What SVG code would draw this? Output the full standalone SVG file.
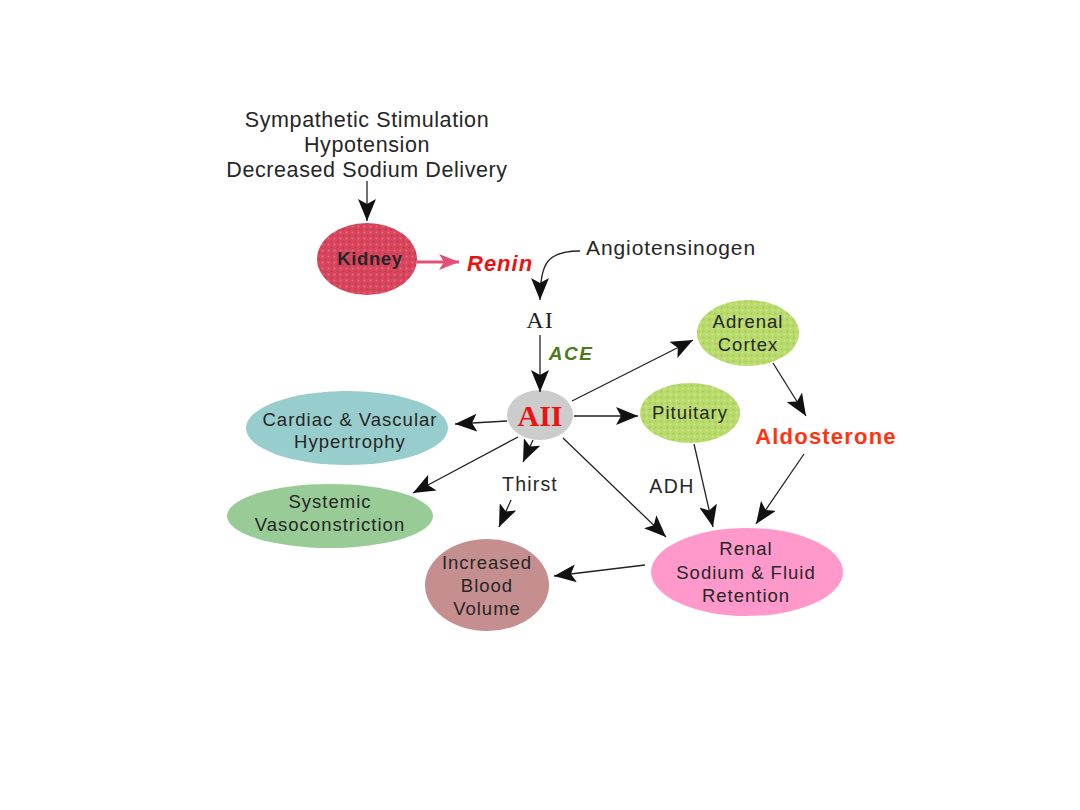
<svg xmlns="http://www.w3.org/2000/svg" width="1080" height="810" viewBox="0 0 1080 810">
<style>
.t{font-family:"Liberation Sans",Arial,sans-serif;fill:#262626;text-anchor:middle}
.n{font-size:18.5px;letter-spacing:1px}
.top{font-size:21.5px;letter-spacing:0.6px}
.c{stroke:#222;stroke-width:1.3;fill:none}
</style>
<defs>
<marker id="ah" markerUnits="userSpaceOnUse" markerWidth="24" markerHeight="18" refX="22" refY="9" orient="auto">
<path d="M0,0 L22,9 L0,18 L5,9 Z" fill="#111"/>
</marker>
<marker id="ahp" markerUnits="userSpaceOnUse" markerWidth="22" markerHeight="16" refX="20" refY="8" orient="auto">
<path d="M0,0 L20,8 L0,16 L5,8 Z" fill="#e0507a"/>
</marker>
<pattern id="pk" width="6" height="6" patternUnits="userSpaceOnUse">
<rect width="6" height="6" fill="#d8465e"/>
<circle cx="1.5" cy="1.5" r="1" fill="#c23650"/>
<circle cx="4.5" cy="4.5" r="1" fill="#e86a7c"/>
</pattern>
<pattern id="pg" width="6" height="6" patternUnits="userSpaceOnUse">
<rect width="6" height="6" fill="#b9db6c"/>
<circle cx="1.5" cy="1.5" r="1" fill="#a3c85a"/>
<circle cx="4.5" cy="4.5" r="1" fill="#cfe98a"/>
</pattern>
</defs>
<rect width="1080" height="810" fill="#fff"/>

<g id="causes">
<text class="t top" x="367" y="127">Sympathetic Stimulation</text>
<text class="t top" x="367" y="152">Hypotension</text>
<text class="t top" x="367" y="177">Decreased Sodium Delivery</text>
</g>
<g id="kidney">
<ellipse cx="367" cy="259" rx="50" ry="36" fill="url(#pk)"/>
<text class="t" x="370" y="265" font-size="18.5" font-weight="bold" letter-spacing="0.6">Kidney</text>
</g>
<g id="renin"><text x="467" y="271" font-family="Liberation Sans,Arial,sans-serif" font-size="22" letter-spacing="1" font-weight="bold" font-style="italic" fill="#ee1111">Renin</text></g>
<g id="angiotensinogen"><text class="t" x="671" y="255" font-size="21" letter-spacing="0.9">Angiotensinogen</text></g>
<g id="ai"><text x="540" y="328" font-family="Liberation Serif,'Times New Roman',serif" font-size="24" letter-spacing="1" fill="#222" text-anchor="middle">AI</text></g>
<g id="ace"><text x="571" y="360" font-family="Liberation Sans,Arial,sans-serif" font-size="19" letter-spacing="1.5" font-weight="bold" font-style="italic" fill="#4a7a1a" text-anchor="middle">ACE</text></g>
<g id="aii">
<ellipse cx="540" cy="415" rx="33" ry="25" fill="#cccccc"/>
<text x="540" y="426" font-family="Liberation Serif,'Times New Roman',serif" font-size="30" font-weight="bold" fill="#ee1111" text-anchor="middle">AII</text>
</g>
<g id="cardiac">
<ellipse cx="347" cy="428" rx="101" ry="37" fill="#97cdcc"/>
<text class="t n" x="350" y="426">Cardiac &amp; Vascular</text>
<text class="t n" x="350" y="448">Hypertrophy</text>
</g>
<g id="systemic">
<ellipse cx="330" cy="516" rx="103" ry="32" fill="#98cb96"/>
<text class="t n" x="330" y="508">Systemic</text>
<text class="t n" x="330" y="531">Vasoconstriction</text>
</g>
<g id="thirst"><text class="t" x="530" y="491" font-size="19.5" letter-spacing="1.2">Thirst</text></g>
<g id="adh"><text class="t" x="672" y="493" font-size="19.5" letter-spacing="1.5">ADH</text></g>
<g id="blood">
<ellipse cx="487" cy="585" rx="62" ry="46" fill="#c58f8f"/>
<text class="t n" x="487" y="569">Increased</text>
<text class="t n" x="487" y="592">Blood</text>
<text class="t n" x="487" y="615">Volume</text>
</g>
<g id="renal">
<ellipse cx="747" cy="572" rx="96" ry="44" fill="#ff99cc"/>
<text class="t n" x="746" y="555">Renal</text>
<text class="t n" x="746" y="579">Sodium &amp; Fluid</text>
<text class="t n" x="746" y="602">Retention</text>
</g>
<g id="pituitary">
<ellipse cx="690" cy="413" rx="50" ry="30" fill="url(#pg)"/>
<text class="t n" x="690" y="419">Pituitary</text>
</g>
<g id="adrenal">
<ellipse cx="748" cy="333" rx="51" ry="33" fill="url(#pg)"/>
<text class="t n" x="748" y="328">Adrenal</text>
<text class="t n" x="748" y="351">Cortex</text>
</g>
<g id="aldosterone"><text x="826" y="444" font-family="Liberation Sans,Arial,sans-serif" font-size="22" letter-spacing="1.2" font-weight="bold" fill="#ff3311" text-anchor="middle">Aldosterone</text></g>

<g id="connectors">
<path class="c" d="M367,181 L367,221" marker-end="url(#ah)"/>
<path d="M417,262 L459,262" stroke="#e0507a" stroke-width="3" fill="none" marker-end="url(#ahp)"/>
<path class="c" d="M580,251 C548,251 540,262 540,300" marker-end="url(#ah)"/>
<path class="c" d="M540,335 L540,392" marker-end="url(#ah)"/>
<path class="c" d="M572,401 L693,340" marker-end="url(#ah)"/>
<path class="c" d="M574,416 L638,416" marker-end="url(#ah)"/>
<path class="c" d="M507,421 L455,424" marker-end="url(#ah)"/>
<path class="c" d="M518,437 L413,493" marker-end="url(#ah)"/>
<path class="c" d="M533,440 L523,462" marker-end="url(#ah)"/>
<path class="c" d="M511,500 L499,527" marker-end="url(#ah)"/>
<path class="c" d="M563,438 L666,537" marker-end="url(#ah)"/>
<path class="c" d="M694,444 L713,527" marker-end="url(#ah)"/>
<path class="c" d="M773,363 L806,416" marker-end="url(#ah)"/>
<path class="c" d="M804,454 L756,524" marker-end="url(#ah)"/>
<path class="c" d="M645,565 L554,576" marker-end="url(#ah)"/>
</g>
</svg>
